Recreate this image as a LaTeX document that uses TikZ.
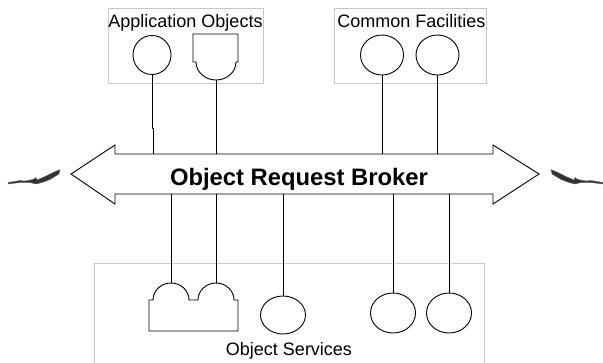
\documentclass[tikz,border=0pt]{standalone}
\usepackage{fontspec}
\setmainfont{Liberation Sans}
\usetikzlibrary{shapes.geometric}
\tikzset{
  groupbox/.style={draw=black!22, line width=0.9pt},
  outline/.style={draw=black, line width=0.9pt, line join=miter},
  wire/.style={draw=black, line width=0.9pt},
  iface/.style={ellipse, draw=black, line width=0.9pt, inner sep=0pt},
  grouplabel/.style={font=\fontsize{18}{20}\selectfont, inner sep=0pt, anchor=base},
  orblabel/.style={font=\fontsize{23.8}{26}\selectfont\bfseries, inner sep=0pt, anchor=base},
  streak/.style={fill=black!80, draw=black!60, line width=0.4pt}
}
% jagged streak standing for a link to a further broker
\newcommand\brokerlink{%
  \filldraw[streak] (8,182.5) -- (20,180.5) -- (25,181) -- (33,179.5)
    -- (36,177.5) -- (37,180) -- (45,176.5) -- (52,173) -- (60,169.5)
    -- (59,174) -- (50,179.5) -- (42,182.5) -- (36,184) -- (30,182.5)
    -- (20,182.5) -- (8,184) -- cycle;}
\begin{document}
\begin{tikzpicture}[x=1pt, y=-1pt]
  \useasboundingbox (0,0) rectangle (603,362);
  \clip (0,0) rectangle (603,362);

  % group frames
  \draw[groupbox] (108,8) rectangle (263,83);
  \draw[groupbox] (334,8) rectangle (486,83);
  \draw[groupbox] (94,263) rectangle (484,370);

  \node[grouplabel] (aolabel) at (185.5,27) {Application Objects};
  \node[grouplabel] (cflabel) at (411.5,27) {Common Facilities};
  \node[grouplabel] (oslabel) at (289,355) {Object Services};

  % the broker: a double-headed block arrow
  \draw[outline] (71,174) -- (115,145) -- (115,154) -- (493,154) -- (493,145)
     -- (539,174) -- (493,204) -- (493,194) -- (115,194) -- (115,204) -- cycle;
  \node[orblabel] (orb) at (299,185) {Object Request Broker};
  \coordinate (orbN) at (300,154);
  \coordinate (orbS) at (300,194);

  % application objects
  \node[iface, minimum width=38pt, minimum height=39pt] (ao1) at (152,55) {};
  \draw[outline] (193,34) -- (238,34) -- (238,62) -- (236,62)
     arc[start angle=0, end angle=180, x radius=20, y radius=18]
     -- (193,62) -- cycle;
  \coordinate (ao2) at (216,80);

  % common facilities
  \node[iface, minimum width=43pt, minimum height=40pt] (cf1) at (382,55) {};
  \node[iface, minimum width=43pt, minimum height=40pt] (cf2) at (437.5,55) {};

  % object services
  \draw[outline] (149,331) -- (149,300) -- (153,300)
     arc[start angle=180, end angle=360, x radius=18, y radius=17]
     -- (198,300)
     arc[start angle=180, end angle=360, x radius=18, y radius=17]
     -- (238,300) -- (238,331) -- cycle;
  \coordinate (os1) at (171,283);
  \coordinate (os2) at (216,283);
  \node[iface, minimum width=45pt, minimum height=38pt] (os3) at (283,315) {};
  \node[iface, minimum width=45pt, minimum height=40pt] (os4) at (393,313) {};
  \node[iface, minimum width=45pt, minimum height=40pt] (os5) at (449,313) {};

  % connections to the broker
  \coordinate (ao1jog) at ([yshift=-53pt]ao1.south);
  \draw[wire] (ao1.south) -- (ao1jog) -- ++(1,0) coordinate (ao1b) -- (ao1b |- orbN);
  \draw[wire] (ao2) -- (ao2 |- orbN);
  \draw[wire] (cf1.south) -- (cf1.south |- orbN);
  \draw[wire] (cf2.south) -- (cf2.south |- orbN);
  \draw[wire] (os1) -- (os1 |- orbS);
  \draw[wire] (os2) -- (os2 |- orbS);
  \draw[wire] (os3.north) -- (os3.north |- orbS);
  \draw[wire] (os4.north) -- (os4.north |- orbS);
  \draw[wire] (os5.north) -- (os5.north |- orbS);

  % links to other brokers, left and right
  \brokerlink
  \begin{scope}[xshift=611pt, xscale=-1]
    \brokerlink
  \end{scope}
\end{tikzpicture}
\end{document}
